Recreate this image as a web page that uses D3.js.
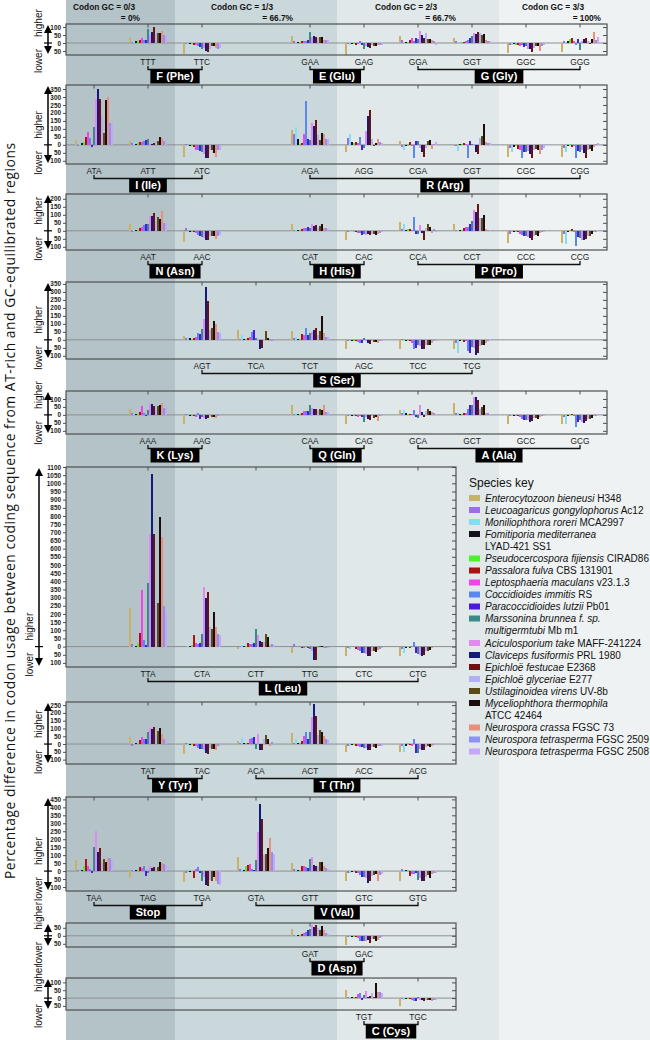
<!DOCTYPE html>
<html><head><meta charset="utf-8">
<script src="https://cdn.jsdelivr.net/npm/d3@7"></script>
<style>body{margin:0;background:#fff}svg{display:block}</style>
</head><body><svg id="chart" width="650" height="1040"></svg>
<script>
// ---------- DATA ----------
const speciesItalic = ["Enterocytozoon bieneusi","Leucoagaricus gongylophorus","Moniliophthora roreri","Fomitiporia mediterranea","Pseudocercospora fijiensis","Passalora fulva","Leptosphaeria maculans","Coccidioides immitis","Paracoccidioides lutzii","Marssonina brunnea f. sp.","Aciculosporium take","Claviceps fusiformis","Epichloë festucae","Epichloë glyceriae","Ustilaginoidea virens","Myceliophthora thermophila","Neurospora crassa","Neurospora tetrasperma","Neurospora tetrasperma"];
const speciesSecondItalic = ["","","","","","","","","","multigermtubi","","","","","","","","",""];
const speciesStrain = ["H348","Ac12","MCA2997","LYAD-421 SS1","CIRAD86","CBS 131901","v23.1.3","RS","Pb01","Mb m1","MAFF-241224","PRL 1980","E2368","E277","UV-8b","ATCC 42464","FGSC 73","FGSC 2509","FGSC 2508"];
const speciesStrainNewLine = [false,false,false,true,false,false,false,false,false,true,false,false,false,false,false,true,false,false,false];
const speciesColors = ["#c8b26a","#9a6ee6","#84def0","#12121e","#4cf02c","#a81212","#f044e6","#5a88f0","#4a1ae0","#3a8a8a","#e08af0","#141a7a","#6a1212","#b0b0f2","#5c4a16","#1c0c0c","#e8907e","#8e92f2","#c6a6f6"];

const gcHeadLine1 = ["Codon GC = 0/3","Codon GC = 1/3","Codon GC = 2/3","Codon GC = 3/3"];
const gcHeadLine2 = ["= 0%","= 66.7%","= 66.7%","= 100%"];

const row1Codons = ["TTT","TTC","GAA","GAG","GGA","GGT","GGC","GGG"];
const row1Values = [
 [40,5,10,10,10,20,30,20,20,90,50,70,100,55,60,65,75,50,45],
 [-70,-5,-10,-5,-5,-10,-15,-20,-25,-40,-30,-50,-55,-35,-20,-20,-30,-35,-30],
 [45,10,5,5,5,10,15,15,20,70,35,45,40,30,35,40,20,20,20],
 [-75,-5,-10,-5,-5,-10,-5,10,-15,-35,-20,-25,-30,-15,-20,-20,-10,-10,-10],
 [45,20,5,5,5,20,30,15,30,25,75,50,30,65,25,25,20,10,-10],
 [30,10,5,3,5,5,10,20,30,45,60,55,70,60,50,55,20,15,10],
 [-60,-15,-10,-5,-10,-15,-20,-15,-25,-20,-35,-40,-55,-30,-20,-20,-50,-20,-10],
 [-55,10,5,10,25,30,15,-15,25,-45,10,25,30,10,-5,25,70,20,35]];
const row1Groups = [["F (Phe)","TTT","TTC"],["E (Glu)","GAA","GAG"],["G (Gly)","GGA","GGG"]];
const row1Ticks = [100,50,0,-50];

const row2Codons = ["ATA","ATT","ATC","AGA","AGG","CGA","CGT","CGC","CGG"];
const row2Values = [
 [30,-8,10,12,15,48,78,40,-15,110,290,350,290,180,75,280,298,140,140],
 [22,10,15,5,10,15,20,25,30,35,5,5,10,20,25,50,40,25,20],
 [-75,5,-10,-5,-5,-15,-30,-35,-40,-45,-55,-80,-80,-30,-35,-50,-75,-35,-35],
 [95,65,110,35,5,10,70,275,35,30,140,115,155,60,30,75,65,35,35],
 [-45,45,65,20,10,15,10,50,-30,-20,85,180,220,35,-10,10,35,15,10],
 [25,-15,-30,-10,-5,15,-10,-80,25,25,-20,-45,-75,-20,25,30,-25,5,15],
 [-10,-10,-40,5,5,10,5,-85,25,5,5,-45,-55,40,55,130,15,10,10],
 [-75,-20,-45,-15,-10,-25,-30,-85,-45,-45,-40,-60,-80,-35,-25,-30,-60,-35,-20],
 [-75,-20,-45,-10,5,-15,-10,-85,-40,-45,-35,-50,-80,-30,-25,-40,-15,5,10]];
const row2Groups = [["I (Ile)","ATA","ATC"],["R (Arg)","AGA","CGG"]];
const row2Ticks = [350,300,250,200,150,100,50,0,-50,-100];

const row3Codons = ["AAT","AAC","CAT","CAC","CCA","CCT","CCC","CCG"];
const row3Values = [
 [45,-10,5,5,5,20,25,35,40,40,90,90,110,60,85,75,125,50,50],
 [-70,15,-10,-5,-5,-10,-15,-25,-35,-40,-45,-55,-60,-35,-30,-35,-50,-35,-25],
 [45,5,5,3,5,10,20,15,25,15,45,30,35,20,30,45,20,15,10],
 [-60,-5,-10,-3,-5,-10,-15,-15,-25,-20,-25,-20,-25,-20,-20,-25,-20,-15,-10],
 [55,10,40,5,10,10,5,85,-20,-20,35,-15,-60,20,45,25,-15,10,-10],
 [45,5,5,5,5,15,25,25,40,60,130,120,170,80,80,100,10,5,5],
 [-75,-20,-10,-5,-5,-10,-20,-25,-30,-30,-40,-45,-60,-30,-25,-35,-15,-10,-10],
 [-75,-20,-80,-10,5,10,-5,-95,-40,-45,-55,-60,-50,-30,-35,-20,-10,-5,5]];
const row3Groups = [["N (Asn)","AAT","AAC"],["H (His)","CAT","CAC"],["P (Pro)","CCA","CCG"]];
const row3Ticks = [200,150,100,50,0,-50,-100];

const row4Codons = ["AGT","TCA","TCT","AGC","TCC","TCG"];
const row4Values = [
 [25,10,20,10,5,10,20,45,35,70,130,330,240,60,75,120,100,50,40],
 [60,5,30,5,5,10,15,50,60,10,5,-60,-50,5,55,10,-10,-5,-5],
 [55,10,20,5,5,35,30,75,30,40,50,60,75,30,55,150,40,20,20],
 [-55,-10,-5,-5,-5,-10,-15,-20,-20,10,-10,-20,-25,-10,-15,-15,-20,-10,-5],
 [-55,5,-10,-5,-5,-10,-20,-60,-50,-30,-40,-55,-60,-35,-35,-30,-20,-10,-5],
 [-55,-20,-85,-10,5,-15,-10,-70,-85,-45,-50,-95,-80,-40,-35,-30,-20,-10,5]];
const row4Groups = [["S (Ser)","AGT","TCG"]];
const row4Ticks = [350,300,250,200,150,100,50,0,-50,-100];

const row5Codons = ["AAA","AAG","CAA","CAG","GCA","GCT","GCC","GCG"];
const row5Values = [
 [40,10,5,5,5,20,55,15,-10,30,70,70,55,40,55,60,75,45,50],
 [-60,5,-10,-5,-5,-10,-15,10,-25,-15,-20,-25,-20,-10,-15,-15,-20,-10,-10],
 [60,5,10,5,5,10,25,25,25,65,45,40,40,30,35,30,60,20,20],
 [-60,-10,-10,-5,-5,-10,-15,-10,-15,-45,-15,-25,-30,-10,-20,-15,-40,-10,-10],
 [30,15,30,10,5,5,5,30,-15,-20,65,20,-15,25,35,25,20,10,5],
 [75,10,15,5,5,10,15,35,60,60,110,110,95,40,50,60,15,10,5],
 [-60,-10,-5,-5,-5,-10,-15,-25,-30,-35,-30,-45,-40,-20,-20,-25,-15,-10,-5],
 [-60,-15,-60,-10,5,5,-10,-75,-45,-35,-45,-50,-40,-25,-25,-20,-10,-5,5]];
const row5Groups = [["K (Lys)","AAA","AAG"],["Q (Gln)","CAA","CAG"],["A (Ala)","GCA","GCG"]];
const row5Ticks = [100,50,0,-50,-100];

const row6Codons = ["TTA","CTA","CTT","TTG","CTC","CTG"];
const row6Values = [
 [235,15,5,5,20,85,345,40,10,390,690,1060,690,270,270,795,670,250,220],
 [-5,-5,5,5,10,70,25,15,20,80,365,300,335,120,105,210,120,75,70],
 [-15,5,10,5,5,20,15,15,25,105,70,35,30,30,75,60,10,15,10],
 [-40,15,-5,-5,-5,-10,-10,-5,-10,-15,-30,-80,-85,-10,5,5,-10,-10,-10],
 [-55,-10,-15,-5,-5,-15,-20,-25,-40,-40,-45,-55,-60,-30,-30,-35,-20,-15,-10],
 [-55,-15,-40,-10,5,-10,-5,30,-40,-45,-50,-55,-50,-30,-25,-20,-10,-5,-5]];
const row6Groups = [["L (Leu)","TTA","CTG"]];
const row6Ticks = [1100,1050,1000,950,900,850,800,750,700,650,600,550,500,450,400,350,300,250,200,150,100,50,0,-50,-100];

const row7Codons = ["TAT","TAC","ACA","ACT","ACC","ACG"];
const row7Values = [
 [45,-10,10,5,5,25,45,35,30,75,100,95,110,55,85,100,65,30,25],
 [-65,10,-15,-5,-5,-10,-15,-25,-30,-30,-35,-55,-65,-25,-30,-30,-35,-15,-10],
 [20,10,40,10,5,5,30,40,45,-30,65,-35,-35,30,55,30,-15,15,10],
 [70,5,35,5,5,20,50,80,30,75,175,260,180,55,90,75,50,30,25],
 [-50,-10,-10,-5,-5,-10,-15,-20,-20,-25,-25,-35,-40,-20,-20,-25,-15,-10,-10],
 [-50,-15,-50,-10,5,-5,-10,30,-55,-55,-30,-40,-40,-20,-15,-20,-10,-5,5]];
const row7Groups = [["Y (Tyr)","TAT","TAC"],["T (Thr)","ACA","ACG"]];
const row7Ticks = [250,200,150,100,50,0,-50,-100];

const row8Codons = ["TAA","TAG","TGA","GTA","GTT","GTC","GTG"];
const row8Values = [
 [70,5,-15,5,35,75,30,10,-10,150,250,120,145,60,75,55,85,80,70],
 [-45,5,5,5,5,25,20,30,-30,-15,30,20,25,10,25,55,50,45,40],
 [-70,-10,10,-5,-5,-45,10,25,-10,-60,-40,-90,-95,-55,-60,-40,-60,-80,-90],
 [90,10,15,5,30,40,45,10,5,70,245,420,330,100,110,145,205,120,110],
 [50,10,15,5,5,30,35,25,20,75,90,40,35,30,55,60,30,20,15],
 [-65,-15,-10,-5,-5,-10,-15,-25,-35,-35,-45,-75,-60,-30,-25,-20,-60,-25,-20],
 [-65,10,5,5,5,-30,-20,-20,-15,-55,-45,-60,-60,-35,-25,-45,-20,-15,-15]];
const row8Groups = [["Stop","TAA","TGA"],["V (Val)","GTA","GTG"]];
const row8Ticks = [450,400,350,300,250,200,150,100,50,0,-50,-100];

const row9Codons = ["GAT","GAC"];
const row9Values = [
 [45,5,5,5,5,10,20,25,35,40,70,55,70,50,35,60,35,20,10],
 [-60,-10,-5,-5,-5,-10,-15,-30,-35,-35,-30,-25,-45,-20,-20,-30,-25,-15,-10]];
const row9Groups = [["D (Asp)","GAT","GAC"]];
const row9Ticks = [50,0,-50];

const row10Codons = ["TGT","TGC"];
const row10Values = [
 [50,5,5,5,5,10,25,35,-15,20,45,5,15,30,10,95,40,40,35],
 [-50,-5,-10,-3,-5,-5,-10,-20,-20,5,-10,-15,-20,-10,-15,-15,-20,-10,-10]];
const row10Groups = [["C (Cys)","TGT","TGC"]];
const row10Ticks = [100,50,0,-50];

// ---------- LAYOUT ----------
const panels = [
 {codons:row1Codons, values:row1Values, groups:row1Groups, ticks:row1Ticks, slots:[1,2,4,5,6,7,8,9], dom:[-75,119], top:24, bottom:55, right:607, ax:48},
 {codons:row2Codons, values:row2Values, groups:row2Groups, ticks:row2Ticks, slots:[0,1,2,4,5,6,7,8,9], dom:[-120,375], top:85, bottom:164, right:607, ax:48},
 {codons:row3Codons, values:row3Values, groups:row3Groups, ticks:row3Ticks, slots:[1,2,4,5,6,7,8,9], dom:[-120,230], top:194, bottom:250, right:607, ax:48},
 {codons:row4Codons, values:row4Values, groups:row4Groups, ticks:row4Ticks, slots:[2,3,4,5,6,7], dom:[-120,362], top:282, bottom:359, right:607, ax:48},
 {codons:row5Codons, values:row5Values, groups:row5Groups, ticks:row5Ticks, slots:[1,2,4,5,6,7,8,9], dom:[-120,150], top:391, bottom:434, right:607, ax:48},
 {codons:row6Codons, values:row6Values, groups:row6Groups, ticks:row6Ticks, slots:[1,2,3,4,5,6], dom:[-125,1100], top:467, bottom:667, right:456, ax:39},
 {codons:row7Codons, values:row7Values, groups:row7Groups, ticks:row7Ticks, slots:[1,2,3,4,5,6], dom:[-128,270], top:702, bottom:764, right:456, ax:48},
 {codons:row8Codons, values:row8Values, groups:row8Groups, ticks:row8Ticks, slots:[0,1,2,3,4,5,6], dom:[-125,465], top:797, bottom:891, right:456, ax:48},
 {codons:row9Codons, values:row9Values, groups:row9Groups, ticks:row9Ticks, slots:[4,5], dom:[-70,80], top:923, bottom:947, right:456, ax:48},
 {codons:row10Codons, values:row10Values, groups:row10Groups, ticks:row10Ticks, slots:[5,6], dom:[-76,128], top:978, bottom:1010, right:456, ax:48}
];

const FONT = "Liberation Sans, Arial, sans-serif";
const svg = d3.select("#chart");
const LEFT = 66;
const bands = [[66,175,"#b4c3c8"],[175,337,"#cbd8db"],[337,499,"#e0e8e9"],[499,650,"#eef2f2"]];
svg.selectAll("rect.band").data(bands).enter().append("rect").attr("class","band")
  .attr("x",d=>d[0]).attr("y",0).attr("width",d=>d[1]-d[0]).attr("height",1040).attr("fill",d=>d[2]);

// headers
const headX1 = [73,211,375,522], headX2 = [140,293,456,601];
gcHeadLine1.forEach((t,i)=>{
  svg.append("text").attr("x",headX1[i]).attr("y",9.5).text(t)
   .attr("font-family",FONT).attr("font-weight","bold").attr("font-size",8.3).attr("fill","#111");
  svg.append("text").attr("x",headX2[i]).attr("y",20.5).attr("text-anchor","end").text(gcHeadLine2[i])
   .attr("font-family",FONT).attr("font-weight","bold").attr("font-size",8.3).attr("fill","#111");
});

const X = d3.scaleLinear().domain([0,9]).range([94,580]);
const inner = d3.scaleBand().domain(d3.range(19)).range([-19,19]);

panels.forEach(p=>{
  const Y = d3.scaleLinear().domain(p.dom).range([p.bottom,p.top]);
  const g = svg.append("g");
  const y0 = Y(0);
  const codonX = {};
  p.codons.forEach((c,i)=>codonX[c]=X(p.slots[i]));
  g.append("line").attr("x1",LEFT).attr("x2",p.right).attr("y1",y0).attr("y2",y0).attr("stroke","#8c9090").attr("stroke-width",1);
  p.codons.forEach((c,ci)=>{
    g.append("g").selectAll("rect").data(p.values[ci]).enter().append("rect")
     .attr("x",(v,i)=>codonX[c]+inner(i)).attr("width",inner.bandwidth())
     .attr("y",v=>Math.min(Y(v),y0)).attr("height",v=>Math.abs(Y(v)-y0))
     .attr("fill",(v,i)=>speciesColors[i]).attr("shape-rendering","crispEdges");
  });
  g.append("rect").attr("x",LEFT).attr("y",p.top).attr("width",p.right-LEFT).attr("height",p.bottom-p.top)
   .attr("fill","none").attr("stroke","#4d5052").attr("stroke-width",1.2);
  const la = g.append("g").attr("transform",`translate(${LEFT},0)`)
   .call(d3.axisLeft(Y).tickValues(p.ticks).tickFormat(d=>Math.abs(d)).tickSize(3).tickPadding(2));
  la.select(".domain").remove();
  la.selectAll("text").attr("font-family",FONT).attr("font-size",6.4).attr("font-weight","bold").attr("fill","#222");
  la.selectAll("line").attr("stroke","#4d5052");
  const ra = g.append("g").attr("transform",`translate(${p.right},0)`)
   .call(d3.axisRight(Y).tickValues(p.ticks).tickFormat("").tickSize(-4));
  ra.select(".domain").remove();
  ra.selectAll("line").attr("stroke","#4d5052");
  const tt = g.append("g");
  tt.selectAll("line").data(p.codons).enter().append("line")
   .attr("x1",c=>codonX[c]).attr("x2",c=>codonX[c]).attr("y1",p.top).attr("y2",p.top+3.5)
   .attr("stroke","#4d5052").attr("stroke-width",1);
  const ly = p.bottom+6.5;
  const cl = g.append("g");
  cl.selectAll("text").data(p.codons).enter().append("text")
   .attr("x",c=>codonX[c]).attr("y",ly+3).attr("text-anchor","middle").text(c=>c)
   .attr("font-family",FONT).attr("font-size",8.4).attr("fill","#1a1a1a");
  p.groups.forEach(gr=>{
    const x1 = codonX[gr[1]], x2 = codonX[gr[2]], by = ly+8;
    g.append("path").attr("d",`M${x1},${by-3.5}V${by}H${x2}V${by-3.5}`).attr("fill","none").attr("stroke","#111").attr("stroke-width",1.3);
    const cx = (x1+x2)/2;
    const lab = g.append("g");
    const box = lab.append("rect").attr("fill","#000");
    const t = lab.append("text").attr("x",cx).attr("y",by+10.8).attr("text-anchor","middle").text(gr[0])
     .attr("font-family",FONT).attr("font-weight","bold").attr("font-size",11).attr("fill","#fff");
    const w = t.node().getComputedTextLength()+12;
    box.attr("x",cx-w/2).attr("y",by+0.5).attr("width",w).attr("height",13.5);
  });
  const ax = p.ax;
  g.append("line").attr("x1",ax).attr("x2",ax).attr("y1",p.top+5).attr("y2",p.bottom-5).attr("stroke","#000").attr("stroke-width",1.5);
  g.append("path").attr("d",`M${ax},${p.top+1}L${ax-4},${p.top+9}L${ax+4},${p.top+9}Z`).attr("fill","#000");
  g.append("path").attr("d",`M${ax},${p.bottom-1}L${ax-4},${p.bottom-9}L${ax+4},${p.bottom-9}Z`).attr("fill","#000");
  g.append("line").attr("x1",ax-4).attr("x2",ax+4).attr("y1",y0).attr("y2",y0).attr("stroke","#000").attr("stroke-width",1.2);
  g.append("text").attr("transform",`translate(${ax-6},${y0-6}) rotate(-90)`).attr("text-anchor","start").text("higher")
   .attr("font-family",FONT).attr("font-size",10).attr("fill","#111");
  g.append("text").attr("transform",`translate(${ax-6},${y0+6}) rotate(-90)`).attr("text-anchor","end").text("lower")
   .attr("font-family",FONT).attr("font-size",10).attr("fill","#111");
});

svg.append("text").attr("transform","translate(14.5,511) rotate(-90)").attr("text-anchor","middle")
 .attr("textLength",736).attr("lengthAdjust","spacing")
 .text("Percentage difference in codon usage between coding sequence from AT-rich and GC-equilibrated regions")
 .attr("font-family","Open Sans, sans-serif").attr("font-size",13.8).attr("fill","#111");

const lg = svg.append("g");
lg.append("text").attr("x",469).attr("y",487).text("Species key")
 .attr("font-family",FONT).attr("font-size",12).attr("fill","#111");
let legY = 498;
speciesItalic.forEach((s,i)=>{
  lg.append("rect").attr("x",469).attr("y",legY-3).attr("width",11).attr("height",6).attr("fill",speciesColors[i]);
  const t = lg.append("text").attr("x",485).attr("y",legY+3.5).attr("font-family",FONT).attr("font-size",10).attr("fill","#111");
  t.append("tspan").attr("font-style","italic").text(s);
  if(speciesStrainNewLine[i]){
    const t2 = lg.append("text").attr("x",485).attr("y",legY+15.5).attr("font-family",FONT).attr("font-size",10).attr("fill","#111");
    if(speciesSecondItalic[i]) t2.append("tspan").attr("font-style","italic").text(speciesSecondItalic[i]+" ");
    t2.append("tspan").text(speciesStrain[i]);
    legY += 24.5;
  } else {
    t.append("tspan").text(" "+speciesStrain[i]);
    legY += 12;
  }
});
</script></body></html>
